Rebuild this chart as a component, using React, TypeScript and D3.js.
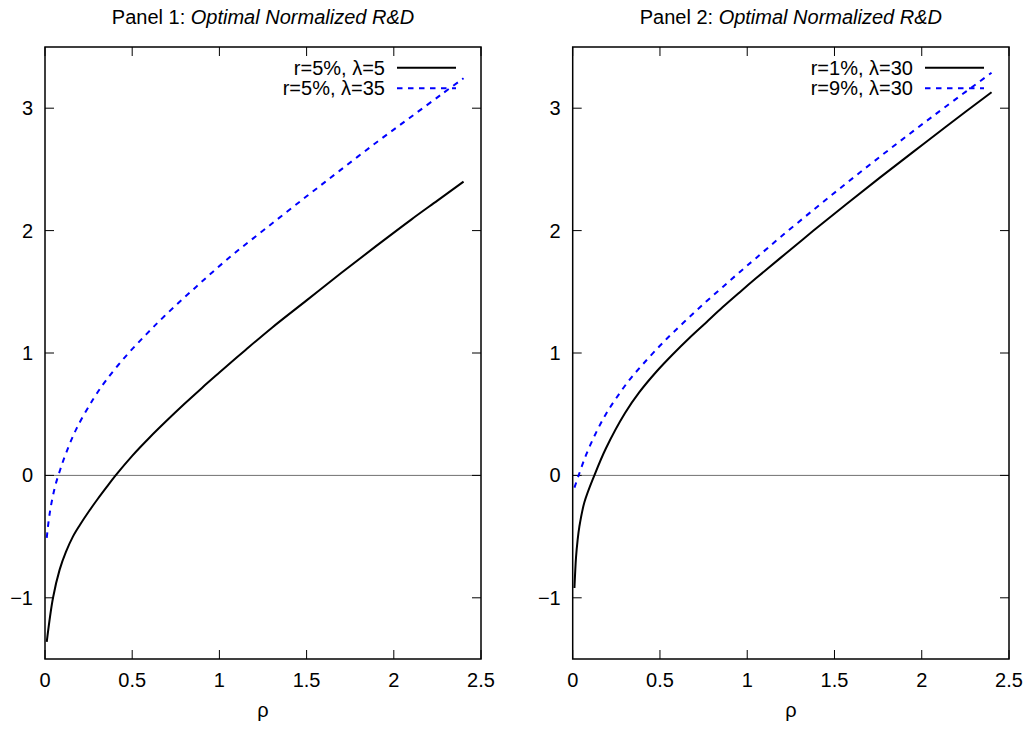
import React from "react";
import * as d3 from "d3";

// ---------- data ----------
const xTicks = [0, 0.5, 1, 1.5, 2, 2.5];
const yTicks = [-1, 0, 1, 2, 3];

const p1TitleLead = "Panel 1: ";
const p2TitleLead = "Panel 2: ";
const titleItalic = "Optimal Normalized R&D";
const xLabel = "ρ";

// Panel 1, r=5%, λ=5
const p1aName = "r=5%, λ=5";
const p1aRho = [0.01, 0.046, 0.084, 0.12, 0.16, 0.2, 0.256, 0.3, 0.352, 0.405, 0.5, 0.6, 0.7, 0.8, 0.9, 1.0, 1.15, 1.3, 1.5, 1.7, 1.9, 2.1, 2.25, 2.4];
const p1aY = [-1.36, -1.0, -0.77, -0.625, -0.5, -0.405, -0.285, -0.197, -0.098, 0, 0.16, 0.31, 0.45, 0.585, 0.715, 0.84, 1.025, 1.205, 1.43, 1.655, 1.875, 2.09, 2.245, 2.4];

// Panel 1, r=5%, λ=35
const p1bName = "r=5%, λ=35";
const p1bRho = [0.01, 0.027, 0.056, 0.088, 0.123, 0.18, 0.275, 0.352, 0.464, 0.579, 0.684, 0.866, 1.057, 1.268, 1.5, 1.69, 1.9, 2.09, 2.28, 2.4];
const p1bY = [-0.51, -0.31, -0.1, 0.05, 0.19, 0.38, 0.62, 0.78, 0.975, 1.15, 1.3, 1.54, 1.78, 2.02, 2.28, 2.49, 2.72, 2.92, 3.12, 3.245];

// Panel 2, r=1%, λ=30
const p2aName = "r=1%, λ=30";
const p2aRho = [0.01, 0.019, 0.028, 0.038, 0.067, 0.124, 0.19, 0.3, 0.382, 0.478, 0.574, 0.67, 0.765, 0.86, 0.956, 1.05, 1.189, 1.38, 1.571, 1.762, 1.953, 2.144, 2.4];
const p2aY = [-0.92, -0.67, -0.53, -0.42, -0.22, 0, 0.22, 0.51, 0.68, 0.845, 0.99, 1.125, 1.25, 1.375, 1.495, 1.61, 1.775, 2.0, 2.22, 2.435, 2.645, 2.855, 3.13];

// Panel 2, r=9%, λ=30
const p2bName = "r=9%, λ=30";
const p2bRho = [0.01, 0.034, 0.076, 0.134, 0.19, 0.249, 0.325, 0.4, 0.497, 0.574, 0.67, 0.765, 0.86, 0.956, 1.05, 1.189, 1.38, 1.571, 1.762, 1.953, 2.144, 2.4];
const p2bY = [-0.1, 0, 0.165, 0.35, 0.5, 0.63, 0.78, 0.905, 1.055, 1.165, 1.295, 1.42, 1.54, 1.66, 1.775, 1.945, 2.17, 2.39, 2.605, 2.815, 3.02, 3.29];

// ---------- layout ----------
const W = 1030;
const H = 729;
const TOP = 47;
const BOTTOM = 659;
const FONT = "'Liberation Sans', Arial, Helvetica, sans-serif";
const FS = 20;
const TICK = 9;
const DASH = "5.5,5.5";

type Series = { name: string; rho: number[]; y: number[]; color: string; dash?: string };

const panels: { left: number; right: number; lead: string; series: Series[] }[] = [
  {
    left: 45,
    right: 481,
    lead: p1TitleLead,
    series: [
      { name: p1aName, rho: p1aRho, y: p1aY, color: "#000000" },
      { name: p1bName, rho: p1bRho, y: p1bY, color: "#0000ff", dash: DASH },
    ],
  },
  {
    left: 572.7,
    right: 1009,
    lead: p2TitleLead,
    series: [
      { name: p2aName, rho: p2aRho, y: p2aY, color: "#000000" },
      { name: p2bName, rho: p2bRho, y: p2bY, color: "#0000ff", dash: DASH },
    ],
  },
];

function fmtY(v: number) {
  return v < 0 ? "\u2212" + Math.abs(v) : String(v);
}

function Panel({ left, right, lead, series }: { left: number; right: number; lead: string; series: Series[] }) {
  const x = d3.scaleLinear().domain([0, 2.5]).range([left, right]);
  const y = d3.scaleLinear().domain([-1.5, 3.5]).range([BOTTOM, TOP]);
  const cx = (left + right) / 2;

  return (
    <g fontFamily={FONT} fontSize={FS} fill="#000">
      {/* title */}
      <text x={cx} y={24} textAnchor="middle">
        <tspan>{lead}</tspan>
        <tspan fontStyle="italic">{titleItalic}</tspan>
      </text>

      {/* zero line */}
      <line x1={left} x2={right} y1={y(0)} y2={y(0)} stroke="#707070" strokeWidth={1} />

      {/* x ticks */}
      {xTicks.map((t) => (
        <g key={"x" + t}>
          <line x1={x(t)} x2={x(t)} y1={BOTTOM} y2={BOTTOM - TICK} stroke="#000" strokeWidth={1} />
          <line x1={x(t)} x2={x(t)} y1={TOP} y2={TOP + TICK} stroke="#000" strokeWidth={1} />
          <text x={x(t)} y={687} textAnchor="middle">
            {String(t)}
          </text>
        </g>
      ))}

      {/* y ticks */}
      {yTicks.map((t) => (
        <g key={"y" + t}>
          <line x1={left} x2={left + TICK} y1={y(t)} y2={y(t)} stroke="#000" strokeWidth={1} />
          <line x1={right} x2={right - TICK} y1={y(t)} y2={y(t)} stroke="#000" strokeWidth={1} />
          <text x={left - 12} y={y(t) + 7} textAnchor="end">
            {fmtY(t)}
          </text>
        </g>
      ))}

      {/* curves */}
      {series.map((s) => {
        const pts: [number, number][] = s.rho.map((r, i) => [r, s.y[i]]);
        const line = d3
          .line<[number, number]>()
          .x((d) => x(d[0]))
          .y((d) => y(d[1]))
          .curve(d3.curveCatmullRom.alpha(0.5));
        return (
          <path
            key={s.name}
            d={line(pts) || ""}
            fill="none"
            stroke={s.color}
            strokeWidth={2}
            strokeDasharray={s.dash}
          />
        );
      })}

      {/* legend */}
      {series.map((s, i) => {
        const ly = 67.7 + i * 20.5;
        return (
          <g key={"lg" + s.name}>
            <text x={right - 96} y={ly + 7} textAnchor="end">
              {s.name}
            </text>
            <line
              x1={right - 84}
              x2={right - 25}
              y1={ly}
              y2={ly}
              stroke={s.color}
              strokeWidth={2}
              strokeDasharray={s.dash}
            />
          </g>
        );
      })}

      {/* frame */}
      <rect x={left} y={TOP} width={right - left} height={BOTTOM - TOP} fill="none" stroke="#000" strokeWidth={1.5} />

      {/* x label */}
      <text x={cx} y={717} textAnchor="middle">
        {xLabel}
      </text>
    </g>
  );
}

export default function App() {
  return (
    <svg
      width={W}
      height={H}
      viewBox={`0 0 ${W} ${H}`}
      style={{ position: "absolute", left: 0, top: 0, background: "#fff" }}
    >
      <rect x={0} y={0} width={W} height={H} fill="#fff" />
      {panels.map((p, i) => (
        <Panel key={i} {...p} />
      ))}
    </svg>
  );
}
